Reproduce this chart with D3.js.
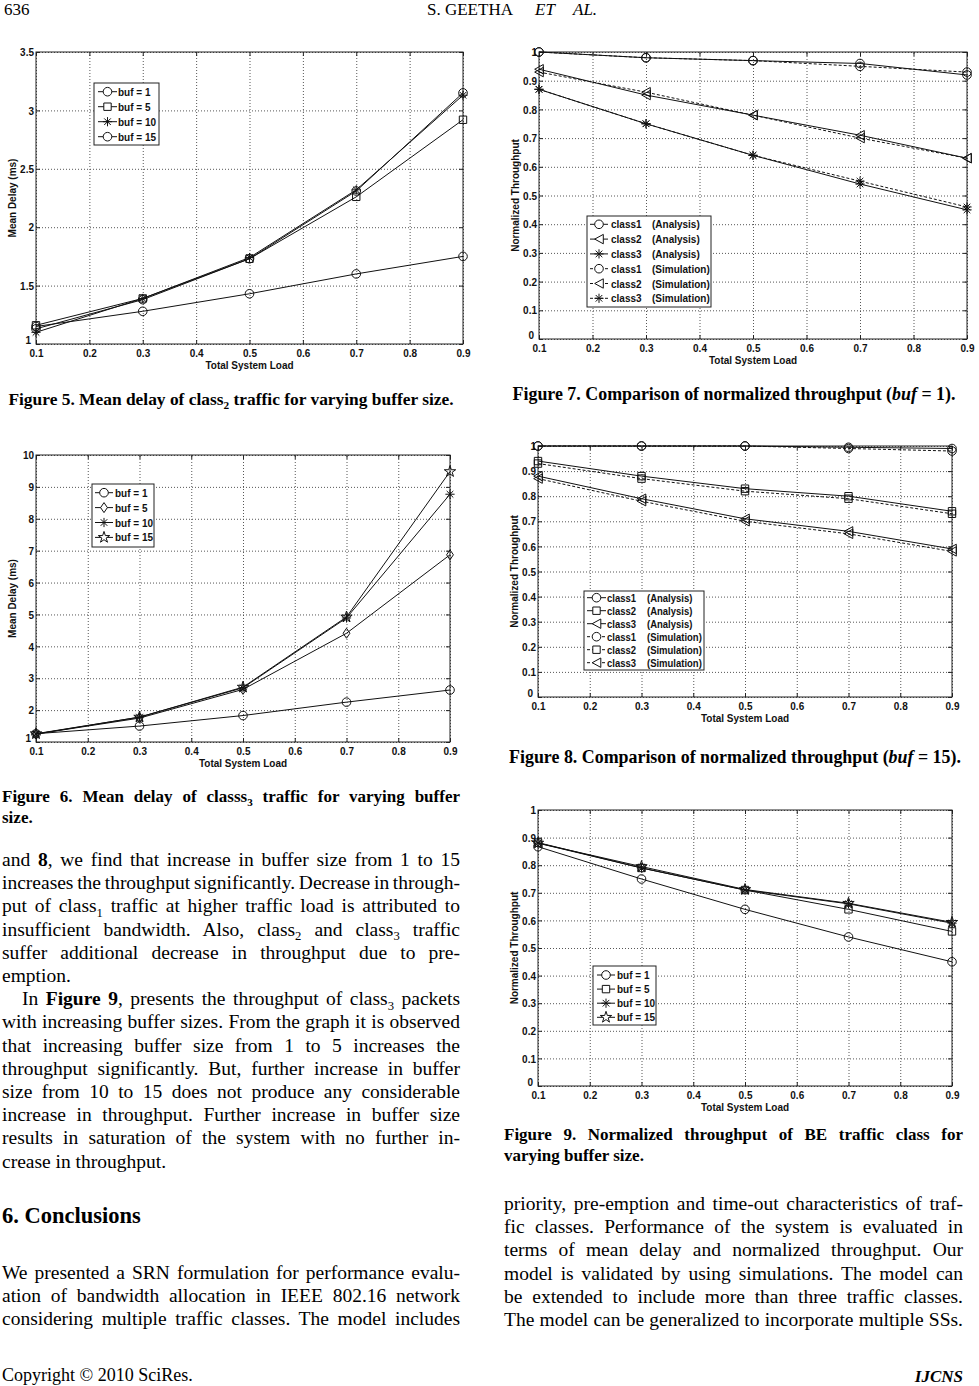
<!DOCTYPE html>
<html>
<head>
<meta charset="utf-8">
<script src="https://cdn.jsdelivr.net/npm/d3@7"></script>
<style>
  body { margin: 0; background: #fff; }
  svg { display: block; }
  .axis text, .lab { font-family: "Liberation Sans", Arial, sans-serif; font-weight: bold; font-size: 10px; fill: #111; }
  .axis line { stroke: #222; }
  .axis .domain { display: none; }
</style>
</head>
<body>
<svg width="979" height="1386"></svg>
<script>
// x values shared by every plot
const loads = [0.1, 0.3, 0.5, 0.7, 0.9];
const loadTicks = [0.1, 0.2, 0.3, 0.4, 0.5, 0.6, 0.7, 0.8, 0.9];
const delay5Ticks = [1, 1.5, 2, 2.5, 3, 3.5];
const delay6Ticks = [1, 2, 3, 4, 5, 6, 7, 8, 9, 10];
const thrTicks = [0, 0.1, 0.2, 0.3, 0.4, 0.5, 0.6, 0.7, 0.8, 0.9, 1];

const bufLabels = ['buf = 1', 'buf = 5', 'buf = 10', 'buf = 15'];
const classLabels = ['class1', 'class2', 'class3', 'class1', 'class2', 'class3'];
const methodLabels = ['(Analysis)', '(Analysis)', '(Analysis)', '(Simulation)', '(Simulation)', '(Simulation)'];

// Figure 5 - mean delay class2
const f5Buf1 = [1.15, 1.28, 1.43, 1.60, 1.75];
const f5Buf5 = [1.16, 1.39, 1.73, 2.26, 2.92];
const f5Buf10 = [1.10, 1.39, 1.74, 2.32, 3.13];
const f5Buf15 = [1.13, 1.38, 1.73, 2.31, 3.15];

// Figure 6 - mean delay class3
const f6Buf1 = [1.26, 1.50, 1.83, 2.25, 2.63];
const f6Buf5 = [1.25, 1.75, 2.65, 4.41, 6.87];
const f6Buf10 = [1.25, 1.78, 2.70, 4.89, 8.77];
const f6Buf15 = [1.26, 1.78, 2.72, 4.92, 9.48];

// Figure 7 - throughput buf = 1
const f7C1Ana = [1.00, 0.98, 0.97, 0.96, 0.92];
const f7C2Ana = [0.94, 0.85, 0.78, 0.71, 0.63];
const f7C3Ana = [0.87, 0.75, 0.64, 0.54, 0.45];
const f7C1Sim = [1.00, 0.98, 0.97, 0.95, 0.93];
const f7C2Sim = [0.93, 0.86, 0.78, 0.70, 0.63];
const f7C3Sim = [0.87, 0.75, 0.64, 0.55, 0.46];

// Figure 8 - throughput buf = 15
const f8C1Ana = [1.00, 1.00, 1.00, 0.995, 0.99];
const f8C2Ana = [0.94, 0.88, 0.83, 0.80, 0.74];
const f8C3Ana = [0.88, 0.79, 0.71, 0.66, 0.59];
const f8C1Sim = [1.00, 1.00, 1.00, 0.99, 0.98];
const f8C2Sim = [0.93, 0.87, 0.82, 0.79, 0.73];
const f8C3Sim = [0.87, 0.78, 0.70, 0.65, 0.58];

// Figure 9 - BE throughput
const f9Buf1 = [0.867, 0.75, 0.64, 0.54, 0.45];
const f9Buf5 = [0.882, 0.79, 0.71, 0.64, 0.56];
const f9Buf10 = [0.88, 0.79, 0.71, 0.66, 0.59];
const f9Buf15 = [0.88, 0.795, 0.712, 0.662, 0.593];

let svg = d3.select('svg');
const stretch = 1.15;   // matlab export text is a bit taller than wide

function markerPath(type) {
  if (type == 'circle') return d3.symbol(d3.symbolCircle, Math.PI * 4.3 * 4.3)();
  if (type == 'square') return 'M-3.7,-3.7H3.7V3.7H-3.7Z';
  if (type == 'diamond') return 'M0,-5L3.4,0L0,5L-3.4,0Z';
  if (type == 'triLeft') return 'M-4.3,0L4.3,-4.7L4.3,4.7Z';
  if (type == 'star') return d3.symbol(d3.symbolStar, 40)();
  // asterisk: plus and cross
  let s = 4.6, k = 3.3;
  return `M0,${-s}V${s}M${-s},0H${s}M${-k},${-k}L${k},${k}M${-k},${k}L${k},${-k}`;
}

function label(g, x, y, txt, fs, extra) {
  return g.append('text').attr('class', 'lab')
    .attr('transform', 'translate(' + x + ',' + y + ')' + (extra || '') + ' scale(1,' + stretch + ')')
    .attr('dy', '0.35em').style('font-size', fs + 'px').text(txt);
}

function drawChart(c) {
  let x = d3.scaleLinear().domain([0.1, 0.9]).range([c.left, c.right]);
  let y = d3.scaleLinear().domain(c.yDomain).range([c.bottom, c.top]);
  let w = c.right - c.left, h = c.bottom - c.top;
  let g = svg.append('g');

  // dotted grid
  g.append('g').attr('class', 'grid').attr('transform', 'translate(0,' + c.bottom + ')')
    .call(d3.axisBottom(x).tickValues(loadTicks).tickSize(-h).tickFormat(''));
  g.append('g').attr('class', 'grid').attr('transform', 'translate(' + c.left + ',0)')
    .call(d3.axisLeft(y).tickValues(c.yTicks).tickSize(-w).tickFormat(''));
  g.selectAll('.grid .domain').remove();
  g.selectAll('.grid line').attr('stroke', '#444').attr('stroke-width', 0.9).attr('stroke-dasharray', '1,2');

  // axes, ticks pointing inwards
  g.append('g').attr('class', 'axis').attr('transform', 'translate(0,' + c.bottom + ')')
    .call(d3.axisBottom(x).tickValues(loadTicks).tickSize(-4).tickPadding(4).tickFormat(d3.format('.1f')))
    .selectAll('text').attr('transform', 'scale(1,' + stretch + ')');
  g.append('g').attr('class', 'axis').attr('transform', 'translate(' + c.left + ',0)')
    .call(d3.axisLeft(y).tickValues(c.yTicks).tickSize(-4).tickPadding(2).tickFormat(d => String(d)))
    .selectAll('text').attr('transform', (d, i) => i == 0 ? 'translate(-3,-4) scale(1,' + stretch + ')' : 'scale(1,' + stretch + ')');
  g.append('g').attr('class', 'axis').attr('transform', 'translate(0,' + c.top + ')')
    .call(d3.axisTop(x).tickValues(loadTicks).tickSize(-4).tickFormat(''));
  g.append('g').attr('class', 'axis').attr('transform', 'translate(' + c.right + ',0)')
    .call(d3.axisRight(y).tickValues(c.yTicks).tickSize(-4).tickFormat(''));

  g.append('rect')
    .attr('x', c.left).attr('y', c.top).attr('width', w).attr('height', h)
    .attr('fill', 'none').attr('stroke', '#222').attr('stroke-width', 1);

  label(g, (c.left + c.right) / 2, c.bottom + 21, 'Total System Load', 10).attr('text-anchor', 'middle');
  label(g, c.left - 24, (c.top + c.bottom) / 2, c.yLabel, 10, ' rotate(-90)').attr('text-anchor', 'middle');

  let line = d3.line().x((d, i) => x(loads[i])).y(d => y(d));
  c.series.forEach(function(s) {
    g.append('path').attr('d', line(s.v))
      .attr('fill', 'none').attr('stroke', '#111').attr('stroke-width', 1)
      .attr('stroke-dasharray', s.dash ? '3,2' : null);
    g.selectAll(null).data(s.v).enter().append('path')
      .attr('d', markerPath(s.m))
      .attr('transform', (d, i) => 'translate(' + x(loads[i]) + ',' + y(d) + ')')
      .attr('fill', 'none').attr('stroke', '#111').attr('stroke-width', 1);
  });

  // legend
  let L = c.legend;
  g.append('rect').attr('x', L.x).attr('y', L.y).attr('width', L.w).attr('height', L.h)
    .attr('fill', '#fff').attr('stroke', '#222').attr('stroke-width', 1);
  c.series.forEach(function(s, i) {
    let ry = L.y + L.pad + i * L.dy;
    g.append('line').attr('x1', L.lx[0]).attr('x2', L.lx[1]).attr('y1', ry).attr('y2', ry)
      .attr('stroke', '#111').attr('stroke-dasharray', s.dash ? '3,2' : null);
    g.append('path').attr('d', markerPath(s.m))
      .attr('transform', 'translate(' + (L.lx[0] + L.lx[1]) / 2 + ',' + ry + ')')
      .attr('fill', '#fff').attr('stroke', '#111');
    label(g, L.tx, ry, L.labels[i], L.fs);
    if (L.labels2) label(g, L.tx2, ry, L.labels2[i], L.fs);
  });
}

drawChart({left: 36, right: 463, top: 52, bottom: 344, yDomain: [1, 3.5], yTicks: delay5Ticks,
  yLabel: 'Mean Delay (ms)',
  series: [{v: f5Buf1, m: 'circle'}, {v: f5Buf5, m: 'square'}, {v: f5Buf10, m: 'asterisk'}, {v: f5Buf15, m: 'circle'}],
  legend: {x: 94, y: 83, w: 65, h: 62, pad: 8.7, dy: 15, lx: [98, 117], tx: 118, fs: 10, labels: bufLabels}});

drawChart({left: 36, right: 450, top: 455, bottom: 742, yDomain: [1, 10], yTicks: delay6Ticks,
  yLabel: 'Mean Delay (ms)',
  series: [{v: f6Buf1, m: 'circle'}, {v: f6Buf5, m: 'diamond'}, {v: f6Buf10, m: 'asterisk'}, {v: f6Buf15, m: 'star'}],
  legend: {x: 92, y: 484, w: 62, h: 63, pad: 8.7, dy: 14.9, lx: [95, 113], tx: 115, fs: 10, labels: bufLabels}});

drawChart({left: 539, right: 967, top: 52, bottom: 339, yDomain: [0, 1], yTicks: thrTicks,
  yLabel: 'Normalized Throughput',
  series: [{v: f7C1Ana, m: 'circle'}, {v: f7C2Ana, m: 'triLeft'}, {v: f7C3Ana, m: 'asterisk'},
           {v: f7C1Sim, m: 'circle', dash: true}, {v: f7C2Sim, m: 'triLeft', dash: true}, {v: f7C3Sim, m: 'asterisk', dash: true}],
  legend: {x: 587, y: 216, w: 124, h: 91, pad: 8.3, dy: 14.8, lx: [590, 608], tx: 611, tx2: 652, fs: 10,
           labels: classLabels, labels2: methodLabels}});

drawChart({left: 538, right: 952, top: 446, bottom: 697, yDomain: [0, 1], yTicks: thrTicks,
  yLabel: 'Normalized Throughput',
  series: [{v: f8C1Ana, m: 'circle'}, {v: f8C2Ana, m: 'square'}, {v: f8C3Ana, m: 'triLeft'},
           {v: f8C1Sim, m: 'circle', dash: true}, {v: f8C2Sim, m: 'square', dash: true}, {v: f8C3Sim, m: 'triLeft', dash: true}],
  legend: {x: 584, y: 591, w: 120, h: 79, pad: 6.7, dy: 13, lx: [587, 606], tx: 607, tx2: 647, fs: 9.5,
           labels: classLabels, labels2: methodLabels}});

drawChart({left: 538, right: 952, top: 810, bottom: 1086, yDomain: [0, 1], yTicks: thrTicks,
  yLabel: 'Normalized Throughput',
  series: [{v: f9Buf1, m: 'circle'}, {v: f9Buf5, m: 'square'}, {v: f9Buf10, m: 'asterisk'}, {v: f9Buf15, m: 'star'}],
  legend: {x: 593, y: 966, w: 63, h: 59, pad: 9, dy: 14.1, lx: [597, 615], tx: 617, fs: 10, labels: bufLabels}});

// ---- page text ----
const serif = '"Liberation Serif", "Times New Roman", serif';

// markup: **bold**, ~italic~, _{subscript}
function richText(x, y, str, o) {
  let t = svg.append('text').attr('x', x).attr('y', y)
    .attr('font-family', serif).attr('font-size', o.size)
    .attr('font-weight', o.weight || 'normal').attr('font-style', o.style || 'normal').attr('fill', '#000');
  if (o.anchor) t.attr('text-anchor', o.anchor);
  let sh = o.size * 0.25, shifted = false;
  str.split(/(\*\*[^*]+\*\*|_\{[^}]+\}|~[^~]+~)/).filter(s => s.length).forEach(function(p) {
    let ts = t.append('tspan');
    if (shifted) { ts.attr('dy', -sh); shifted = false; }
    if (p.startsWith('**')) ts.attr('font-weight', 'bold').text(p.slice(2, -2));
    else if (p.startsWith('_{')) { ts.attr('font-size', o.size * 0.65).attr('dy', sh).text(p.slice(2, -1)); shifted = true; }
    else if (p.startsWith('~')) ts.attr('font-style', 'italic').text(p.slice(1, -1));
    else ts.text(p);
  });
  if (o.width) {
    let node = t.node();
    let spaces = (node.textContent.match(/ /g) || []).length;
    if (spaces > 0) t.attr('word-spacing', (o.width - node.getComputedTextLength()) / spaces);
  }
  return t;
}

// header / footer
richText(4, 15, '636', {size: 17});
richText(427, 15, 'S. GEETHA', {size: 17});
richText(535, 15, 'ET', {size: 17, style: 'italic'});
richText(573, 15, 'AL.', {size: 17, style: 'italic'});
richText(2, 1381, 'Copyright © 2010 SciRes.', {size: 18});
richText(963, 1382, 'IJCNS', {size: 17, weight: 'bold', style: 'italic', anchor: 'end'});

// captions
richText(231, 405, 'Figure 5. Mean delay of class_{2} traffic for varying buffer size.', {size: 17.4, weight: 'bold', anchor: 'middle'});
richText(2, 802, 'Figure 6. Mean delay of classs_{3} traffic for varying buffer', {size: 17, weight: 'bold', width: 458});
richText(2, 823, 'size.', {size: 17, weight: 'bold'});
richText(734, 400, 'Figure 7. Comparison of normalized throughput (~buf~ = 1).', {size: 17.9, weight: 'bold', anchor: 'middle'});
richText(735, 763, 'Figure 8. Comparison of normalized throughput (~buf~ = 15).', {size: 17.9, weight: 'bold', anchor: 'middle'});
richText(504, 1140, 'Figure 9. Normalized throughput of BE traffic class for', {size: 17, weight: 'bold', width: 459});
richText(504, 1161, 'varying buffer size.', {size: 17, weight: 'bold'});

// left column body
const leftLines = [
  ['and **8**, we find that increase in buffer size from 1 to 15', true],
  ['increases the throughput significantly. Decrease in through-', true],
  ['put of class_{1} traffic at higher traffic load is attributed to', true],
  ['insufficient bandwidth. Also, class_{2} and class_{3} traffic', true],
  ['suffer additional decrease in throughput due to pre-', true],
  ['emption.', false],
  ['In **Figure 9**, presents the throughput of class_{3} packets', true, 20],
  ['with increasing buffer sizes. From the graph it is observed', true],
  ['that increasing buffer size from 1 to 5 increases the', true],
  ['throughput significantly. But, further increase in buffer', true],
  ['size from 10 to 15 does not produce any considerable', true],
  ['increase in throughput. Further increase in buffer size', true],
  ['results in saturation of the system with no further in-', true],
  ['crease in throughput.', false]
];
leftLines.forEach(function(l, i) {
  let ind = l[2] || 0;
  richText(2 + ind, 866 + i * 23.2, l[0], {size: 19.5, width: l[1] ? 458 - ind : null});
});

richText(2, 1223, '6. Conclusions', {size: 22.5, weight: 'bold'});

const conclLines = [
  'We presented a SRN formulation for performance evalu-',
  'ation of bandwidth allocation in IEEE 802.16 network',
  'considering multiple traffic classes. The model includes'
];
conclLines.forEach(function(l, i) {
  richText(2, 1279 + i * 23.2, l, {size: 19.5, width: 458});
});

const rightLines = [
  'priority, pre-emption and time-out characteristics of traf-',
  'fic classes. Performance of the system is evaluated in',
  'terms of mean delay and normalized throughput. Our',
  'model is validated by using simulations. The model can',
  'be extended to include more than three traffic classes.',
  'The model can be generalized to incorporate multiple SSs.'
];
rightLines.forEach(function(l, i) {
  richText(504, 1210 + i * 23.2, l, {size: 19.5, width: 459});
});
</script>
</body>
</html>
